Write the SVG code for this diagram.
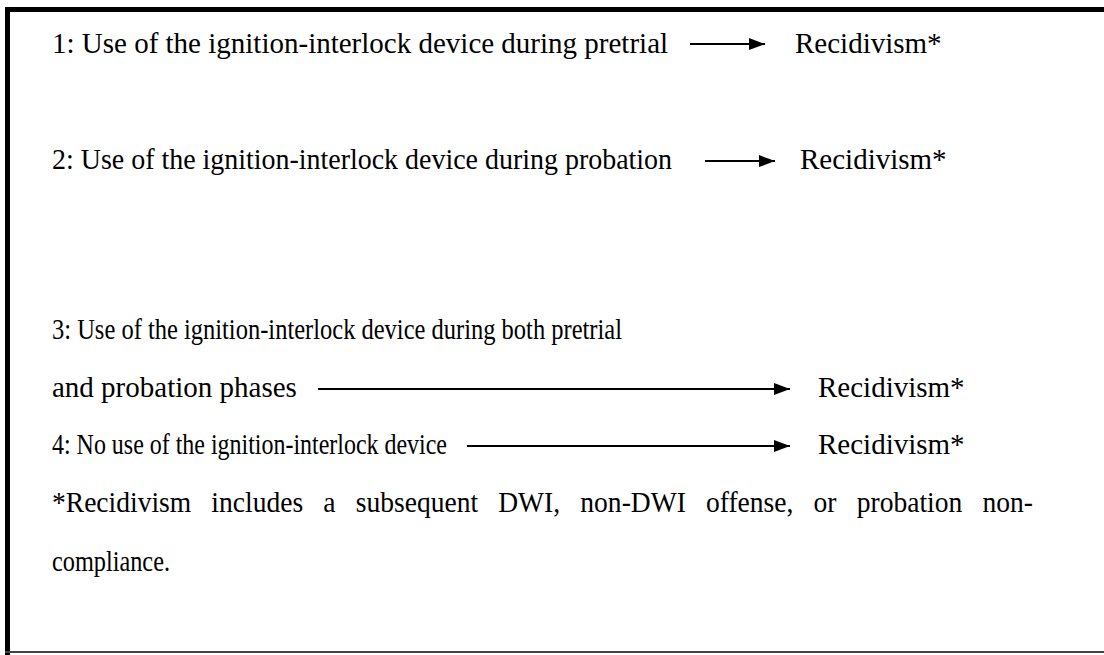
<svg xmlns="http://www.w3.org/2000/svg" width="1104" height="655" viewBox="0 0 1104 655">
<style>
text{font-family:"Liberation Serif","Times New Roman",serif;font-size:29px;fill:#000}
.ln{stroke:#000;stroke-width:2;fill:none}
</style>
<defs>
<marker id="ah" viewBox="0 0 16 12" refX="16" refY="6" markerWidth="16" markerHeight="12" markerUnits="userSpaceOnUse" orient="auto"><path d="M0,0 L16,6 L0,12 z" fill="#000"/></marker>
</defs>
<rect x="0" y="0" width="1104" height="655" fill="#fff"/>
<g id="frame">
<rect x="5" y="7" width="1099" height="5" fill="#000"/>
<rect x="5" y="7" width="5" height="648" fill="#000"/>
<rect x="5" y="651" width="1099" height="2" fill="#444"/>
</g>
<g id="node1"><text x="52" y="53">1: Use of the ignition-interlock device during pretrial</text></g>
<g id="target1"><text x="795" y="53">Recidivism*</text></g>
<g id="node2"><text x="52" y="169" textLength="620" lengthAdjust="spacingAndGlyphs">2: Use of the ignition-interlock device during probation</text></g>
<g id="target2"><text x="800" y="169">Recidivism*</text></g>
<g id="node3"><text x="52" y="339" textLength="570" lengthAdjust="spacingAndGlyphs">3: Use of the ignition-interlock device during both pretrial</text><text x="52" y="397">and probation phases</text></g>
<g id="target3"><text x="818" y="397">Recidivism*</text></g>
<g id="node4"><text x="52" y="454" textLength="395" lengthAdjust="spacingAndGlyphs">4: No use of the ignition-interlock device</text></g>
<g id="target4"><text x="818" y="454">Recidivism*</text></g>
<g id="note"><text transform="translate(52,512) scale(0.95,1)" x="0" y="0" word-spacing="14">*Recidivism includes a subsequent DWI, non-DWI offense, or probation non-</text><text x="52" y="571" textLength="118" lengthAdjust="spacingAndGlyphs">compliance.</text></g>
<g id="connectors">
<line class="ln" x1="690" y1="44" x2="765" y2="44" marker-end="url(#ah)"/>
<line class="ln" x1="705" y1="161" x2="775" y2="161" marker-end="url(#ah)"/>
<line class="ln" x1="318" y1="389" x2="790" y2="389" marker-end="url(#ah)"/>
<line class="ln" x1="467" y1="446" x2="790" y2="446" marker-end="url(#ah)"/>
</g>
</svg>
